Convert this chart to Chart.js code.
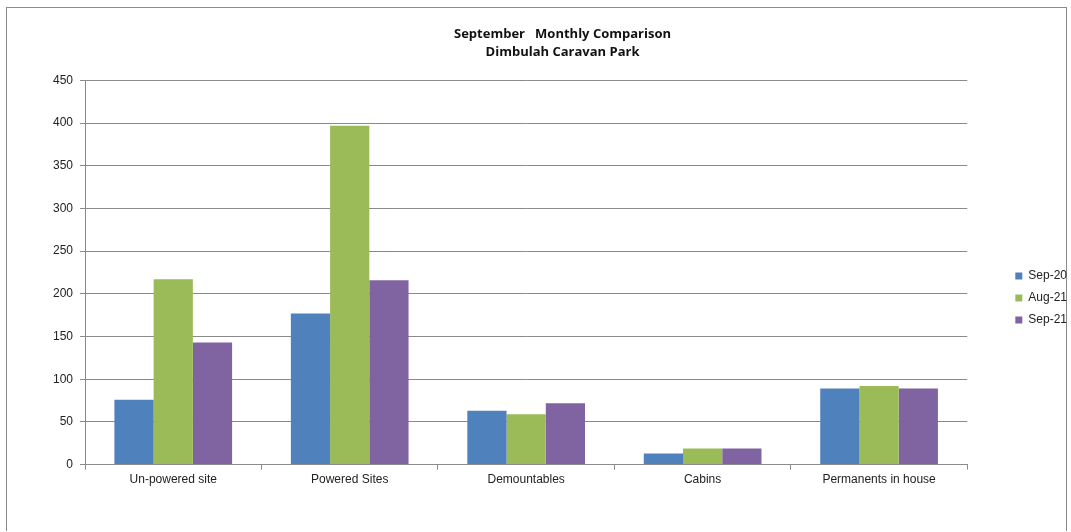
<!DOCTYPE html>
<html>
<head>
<meta charset="utf-8">
<script src="https://cdn.jsdelivr.net/npm/chart.js@4"></script>
<style>
  html, body { margin: 0; padding: 0; background: #fff; overflow: hidden; }
  #frame {
    position: absolute; left: 6px; top: 7px; width: 1061px; height: 524px;
    border: 1px solid #8a8a8a; border-bottom: none; box-sizing: border-box;
  }
  #chart { position: absolute; left: 0; top: 0; }
</style>
</head>
<body>
<div id="frame"></div>
<canvas id="chart" width="1071" height="532"></canvas>
<script>
  var categories = ['Un-powered site', 'Powered Sites', 'Demountables', 'Cabins', 'Permanents in house'];
  var seriesNames = ['Sep-20', 'Aug-21', 'Sep-21'];
  var sep20 = [76, 177, 63, 13, 89];
  var aug21 = [217, 397, 59, 19, 92];
  var sep21 = [143, 216, 72, 19, 89];
  var colors = ['#4f81bd', '#9bbb59', '#8064a2'];
  var titleLines = ['September   Monthly Comparison', 'Dimbulah Caravan Park'];

  var FONT = "'Liberation Sans', Arial, sans-serif";

  // push the legend away from the plot area and down, like the spreadsheet does
  // (the legend clips to its own box, so move the whole box)
  var legendGap = {
    id: 'legendGap',
    beforeInit: function (chart) {
      var fit = chart.legend.fit;
      chart.legend.fit = function () {
        fit.call(this);
        this.width += 28;
      };
    },
    afterLayout: function (chart) {
      var lg = chart.legend;
      lg.left += 38;
      lg.right += 38;
      lg.top += 44;
      lg.bottom += 44;
      chart.titleBlock.left += 6;
      chart.titleBlock.right += 6;
    }
  };

  new Chart(document.getElementById('chart'), {
    type: 'bar',
    data: {
      labels: categories,
      datasets: [sep20, aug21, sep21].map(function (vals, i) {
        return {
          label: seriesNames[i],
          data: vals,
          backgroundColor: colors[i],
          borderWidth: 0,
          categoryPercentage: 0.667,
          barPercentage: 1.0
        };
      })
    },
    plugins: [legendGap],
    options: {
      responsive: false,
      animation: false,
      layout: { padding: { left: 46, right: 4, top: 18, bottom: 42 } },
      plugins: {
        title: {
          display: true,
          text: titleLines,
          color: '#111',
          font: { family: "'Open Sans', sans-serif", size: 13, weight: 'bold', lineHeight: 1.4 },
          padding: { top: 7, bottom: 19 }
        },
        legend: {
          position: 'right',
          labels: {
            boxWidth: 7,
            boxHeight: 7,
            padding: 10,
            color: '#222',
            font: { family: FONT, size: 12 }
          }
        },
        tooltip: { enabled: false }
      },
      scales: {
        x: {
          grid: {
            drawOnChartArea: false,
            drawTicks: true,
            tickLength: 5,
            color: '#8a8a8a'
          },
          border: { color: '#8a8a8a' },
          ticks: {
            color: '#222',
            padding: 3,
            font: { family: FONT, size: 12 }
          }
        },
        y: {
          min: 0,
          max: 450,
          ticks: {
            stepSize: 50,
            color: '#222',
            padding: 7,
            font: { family: FONT, size: 12 }
          },
          grid: {
            color: '#8a8a8a',
            tickLength: 5
          },
          border: { color: '#8a8a8a' }
        }
      }
    }
  });
</script>
</body>
</html>
